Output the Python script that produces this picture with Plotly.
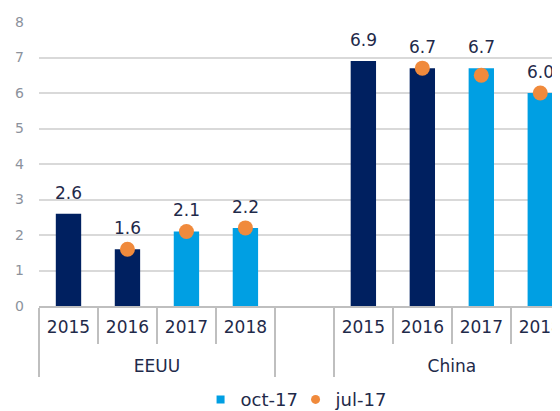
import plotly.graph_objects as go

groups = ["<br>EEUU"] * 4 + [" "] + ["<br>China"] * 4
years = ["2015", "2016", "2017", "2018", " ", "2015", "2016", "2017", "2018"]
oct17 = [2.6, 1.6, 2.1, 2.2, None, 6.9, 6.7, 6.7, 6.0]
bar_colors = ["#002060", "#002060", "#009FE3", "#009FE3", "#009FE3",
              "#002060", "#002060", "#009FE3", "#009FE3"]
oct17_labels = ["2.6", "1.6", "2.1", "2.2", "", "6.9", "6.7", "6.7", "6.0"]

jul_groups = ["<br>EEUU"] * 3 + ["<br>China"] * 3
jul_years = ["2016", "2017", "2018", "2016", "2017", "2018"]
jul17 = [1.6, 2.1, 2.2, 6.7, 6.5, 6.0]

FONT = "DejaVu Sans, Verdana, sans-serif"
TEXT_COLOR = "#1F2A4A"
LIGHT = "#009FE3"
DARK = "#002060"
ORANGE = "#F08A3C"

fig = go.Figure()
fig.add_trace(go.Bar(
    x=[groups, years], y=oct17, marker=dict(color=bar_colors, line=dict(width=0)),
    showlegend=False, hoverinfo="skip"))
fig.add_trace(go.Scatter(
    x=[jul_groups, jul_years], y=jul17, mode="markers", showlegend=False,
    marker=dict(color=ORANGE, size=15, line=dict(width=0))))
# legend entries
fig.add_trace(go.Scatter(
    x=[[groups[2]], ["2017"]], y=[None], mode="markers", name="oct-17",
    marker=dict(color=LIGHT, symbol="square", size=8)))
fig.add_trace(go.Scatter(
    x=[[groups[2]], ["2017"]], y=[None], mode="markers", name="jul-17",
    marker=dict(color=ORANGE, symbol="circle", size=9)))

for g, yr, v, t in zip(groups, years, oct17, oct17_labels):
    if v is None:
        continue
    fig.add_annotation(x=[g, yr], y=v, text=t, showarrow=False, yshift=21,
                       font=dict(family=FONT, size=17, color=TEXT_COLOR))

fig.update_layout(
    width=560, height=411,
    margin=dict(l=31, r=0, t=14, b=113),
    paper_bgcolor="white", plot_bgcolor="white",
    bargap=0.57,
    font=dict(family=FONT, size=17, color=TEXT_COLOR),
    legend=dict(orientation="h", xref="paper", x=0.485, xanchor="center",
                yref="container", y=0.047, yanchor="middle",
                font=dict(family=FONT, size=18, color=TEXT_COLOR),
                itemwidth=30, tracegroupgap=0, entrywidth=50, entrywidthmode="pixels"),
    xaxis=dict(type="multicategory", range=[-0.5, 8.47], showline=True,
               linecolor="#BFBFBF", linewidth=1.5, showgrid=False, automargin=False,
               ticks="outside", tickson="boundaries", ticklen=36, tickcolor="#BFBFBF",
               tickwidth=1.5, ticklabelstandoff=5,
               showdividers=True, dividercolor="#BFBFBF", dividerwidth=1.5,
               tickfont=dict(family=FONT, size=17, color=TEXT_COLOR)),
    yaxis=dict(range=[0, 8], dtick=1, showgrid=True, gridcolor="#D9D9D9", gridwidth=1.5,
               zeroline=False, showline=False, automargin=False,
               tickfont=dict(family=FONT, size=14, color="#8C929C"),
               ticklabelstandoff=14),
)

fig.write_html("out.html")
